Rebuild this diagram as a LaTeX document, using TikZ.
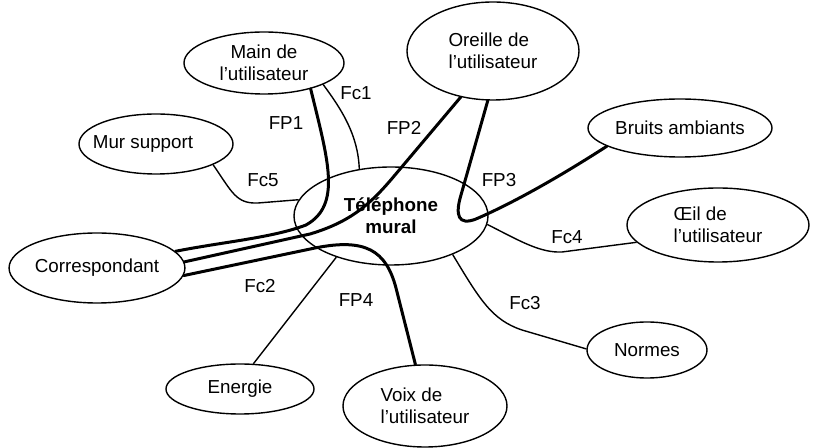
\documentclass[tikz,border=0pt]{standalone}
\usepackage{fontspec}
\setmainfont{Liberation Sans}
\usetikzlibrary{shapes.geometric}
\begin{document}
\begin{tikzpicture}[x=0.5pt,y=-0.5pt,
  ell/.style={draw,ellipse,line width=0.7pt,inner sep=0pt,align=center,font=\fontsize{9.4}{11}\selectfont},
  lbl/.style={inner sep=0pt,font=\fontsize{9.4}{11}\selectfont},
  fcline/.style={line width=0.7pt},
  fpline/.style={line width=1.5pt,line cap=round,line join=round}]
\useasboundingbox (0,0) rectangle (816,448);
% nodes
\node[ell,minimum width=80pt,minimum height=31pt] (main) at (264,63) {Main de\\l’utilisateur};
\node[ell,minimum width=77pt,minimum height=30pt] (mur) at (156,144) {\hspace*{-13pt}Mur support};
\node[ell,minimum width=86pt,minimum height=49pt,align=left] (ore) at (493,51) {Oreille de\\l’utilisateur};
\node[ell,minimum width=92pt,minimum height=29pt] (bru) at (680,128) {Bruits ambiants};
\node[ell,minimum width=91pt,minimum height=37pt,align=left] (oeil) at (718,225) {Œil de\\l’utilisateur};
\node[ell,minimum width=60pt,minimum height=28pt] (norm) at (647,350) {Normes};
\node[ell,minimum width=82pt,minimum height=41pt,align=left] (voix) at (425,406) {Voix de\\l’utilisateur};
\node[ell,minimum width=74pt,minimum height=25pt] (ene) at (240,389) {Energie};
\node[ell,minimum width=86pt,minimum height=35pt] (corr) at (97,268) {Correspondant};
\node[ell,minimum width=97pt,minimum height=49pt,font=\fontsize{9.4}{11}\selectfont\bfseries] (tel) at (391,216) {Téléphone\\mural};
% thin connectors (Fc)
\draw[fcline] (main.-20) .. controls (342,110) and (358,135) .. (tel.124.5);
\draw[fcline] (mur.-20) .. controls (232,192) and (236,204) .. (258,203) -- (tel.170);
\draw[fcline] (tel.-5) .. controls (520,241) and (540,253) .. (562,252) -- (oeil.-168);
\draw[fcline] (tel.-32) .. controls (480,300) and (492,320) .. (522,330) -- (norm.179);
\draw[fcline] (tel.-143) -- (ene.62);
% thick connectors (FP)
\draw[fpline] (main.-29) .. controls (328,160) and (342,205) .. (306,225) .. controls (272,238) and (222,242) .. (corr.12);
\draw[fpline] (ore.-125) -- (395,175) .. controls (370,205) and (350,222) .. (310,234) -- (corr.4);
\draw[fpline] (ore.-96) -- (461,195) .. controls (455,215) and (458,226) .. (476,219) .. controls (520,200) and (570,170) .. (bru.-166);
\draw[fpline] (corr.-5.6) -- (315,248) .. controls (365,238) and (386,250) .. (396,288) -- (voix.103);
% labels
\node[lbl] (lfc1) at (356,93) {Fc1};
\node[lbl] (lfp1) at (286,123) {FP1};
\node[lbl] (lfp2) at (404,128) {FP2};
\node[lbl] (lfc5) at (263,180) {Fc5};
\node[lbl] (lfp3) at (499,180) {FP3};
\node[lbl] (lfc4) at (567,237) {Fc4};
\node[lbl] (lfc3) at (525,303) {Fc3};
\node[lbl] (lfc2) at (260,286) {Fc2};
\node[lbl] (lfp4) at (356,300) {FP4};
\end{tikzpicture}
\end{document}
